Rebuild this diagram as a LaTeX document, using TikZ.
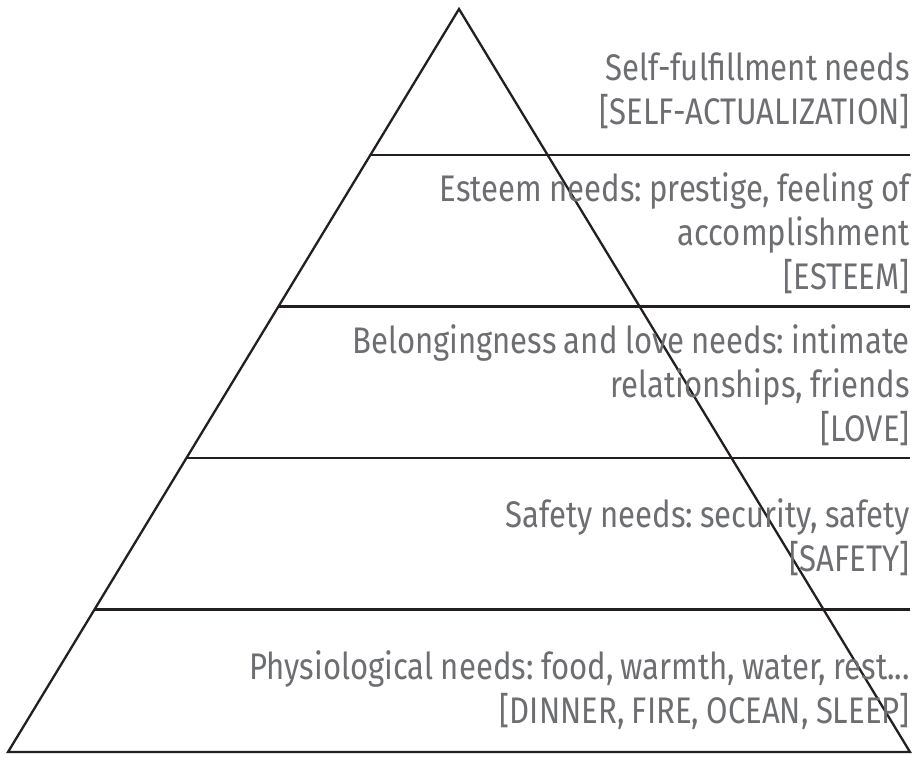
\documentclass[tikz,border=0pt]{standalone}
\usepackage{fontspec}
\setmainfont{Fira Sans}[FakeStretch=0.84,WordSpace=0.9]
\frenchspacing
\usetikzlibrary{calc}
\definecolor{needgray}{HTML}{6D6E71}
\definecolor{pyrline}{HTML}{231F20}
\begin{document}
\begin{tikzpicture}[x=1pt,y=-1pt,
  pyr/.style={draw=pyrline,line width=2.3pt,line join=miter},
  need/.style={anchor=east,align=right,text=needgray,inner sep=0pt,
    font=\fontsize{37}{44}\selectfont}]
  \useasboundingbox (0,0) rectangle (919,756);
  % corners of the pyramid
  \coordinate (apex) at (459,9);
  \coordinate (bl) at (8,752);
  \coordinate (br) at (910,752);
  \coordinate (edge) at (910,0);
  \draw[pyr] (bl) -- (apex) -- (br) -- cycle;
  % level lines
  \path (apex) -- (bl)
    coordinate[pos=0.1965] (l1)
    coordinate[pos=0.4004] (l2)
    coordinate[pos=0.6043] (l3)
    coordinate[pos=0.8082] (l4);
  \foreach \l in {l1,l2,l3,l4}
    \draw[pyr] (\l) -- (\l -| edge);
  % labels
  \node[need] (self) at (910,91) {Self-fulfillment needs\\{}[SELF-ACTUALIZATION]};
  \node[need] (esteem) at (910,233) {Esteem needs: prestige, feeling of\\accomplishment\\{}[ESTEEM]};
  \node[need] (love) at (910,385) {Belongingness and love needs: intimate\\relationships, friends\\{}[LOVE]};
  \node[need] (safety) at (910,537) {Safety needs: security, safety\\{}[SAFETY]};
  \node[need] (phys) at (910,690) {Physiological needs: food, warmth, water, rest...\\{}[DINNER, FIRE, OCEAN, SLEEP]};
\end{tikzpicture}
\end{document}
